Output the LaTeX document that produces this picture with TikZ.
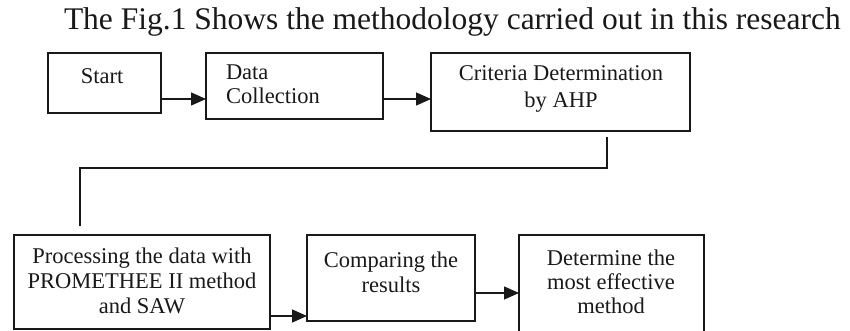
\documentclass[tikz,border=0pt]{standalone}
\usepackage{fontspec}
\setmainfont{Liberation Serif}
\usetikzlibrary{arrows.meta}
\begin{document}
\begin{tikzpicture}[x=1pt,y=-1pt,
  box/.style={draw={rgb,255:red,25;green,25;blue,25},line width=1.4pt,inner sep=0pt,outer sep=0pt,anchor=north west},
  txt/.style={inner sep=0pt,outer sep=0pt,anchor=base,text={rgb,255:red,25;green,25;blue,25},font=\fontsize{22.5}{27}\selectfont},
  link/.style={draw={rgb,255:red,25;green,25;blue,25},line width=1.4pt},
  arr/.style={link,-{Triangle[length=15pt,width=13pt]}}]
\path[use as bounding box,fill=white] (0,0) rectangle (850,331);
\node[inner sep=0pt,outer sep=0pt,anchor=base west,text={rgb,255:red,25;green,25;blue,25},font=\fontsize{31.5}{37.8}\selectfont] (title) at (64,30) {The Fig.1 Shows the methodology carried out in this research};
\node[box,minimum width=113pt,minimum height=60pt] (start) at (48,53) {};
\node[box,minimum width=177pt,minimum height=66pt] (data) at (206,53) {};
\node[box,minimum width=259pt,minimum height=78pt] (crit) at (431,53) {};
\node[box,minimum width=256pt,minimum height=94pt] (proc) at (14,235) {};
\node[box,minimum width=168pt,minimum height=86pt] (comp) at (307,235) {};
\node[box,minimum width=185pt,minimum height=100pt] (best) at (519,235) {};
\node[txt] (t-start) at (102,84) {Start};
\node[txt,anchor=base west] (t-data1) at (226,80) {Data};
\node[txt,anchor=base west] (t-data2) at (226,104) {Collection};
\node[txt] (t-crit1) at (561,81) {Criteria Determination};
\node[txt] (t-crit2) at (561,108) {by AHP};
\node[txt] (t-proc1) at (142,263) {Processing the data with};
\node[txt] (t-proc2) at (142,288) {PROMETHEE II method};
\node[txt] (t-proc3) at (142,313) {and SAW};
\node[txt] (t-comp1) at (391,267) {Comparing the};
\node[txt] (t-comp2) at (391,292) {results};
\node[txt] (t-best1) at (611,265) {Determine the};
\node[txt] (t-best2) at (611,289) {most effective};
\node[txt] (t-best3) at (611,313) {method};
\coordinate (row1) at (0,99);
\coordinate (row2) at (0,316);
\coordinate (row3) at (0,293);
\coordinate (drop) at (607,168);
\coordinate (bend) at (80,168);
\draw[arr] (start.east |- row1) -- (data.west |- row1);
\draw[arr] (data.east |- row1) -- (crit.west |- row1);
\draw[link,shorten <=6pt,shorten >=9pt] (crit.south -| drop) -- (drop) -- (bend) -- (proc.north -| bend);
\draw[arr] (proc.east |- row2) -- (comp.west |- row2);
\draw[arr] (comp.east |- row3) -- (best.west |- row3);
\end{tikzpicture}
\end{document}
